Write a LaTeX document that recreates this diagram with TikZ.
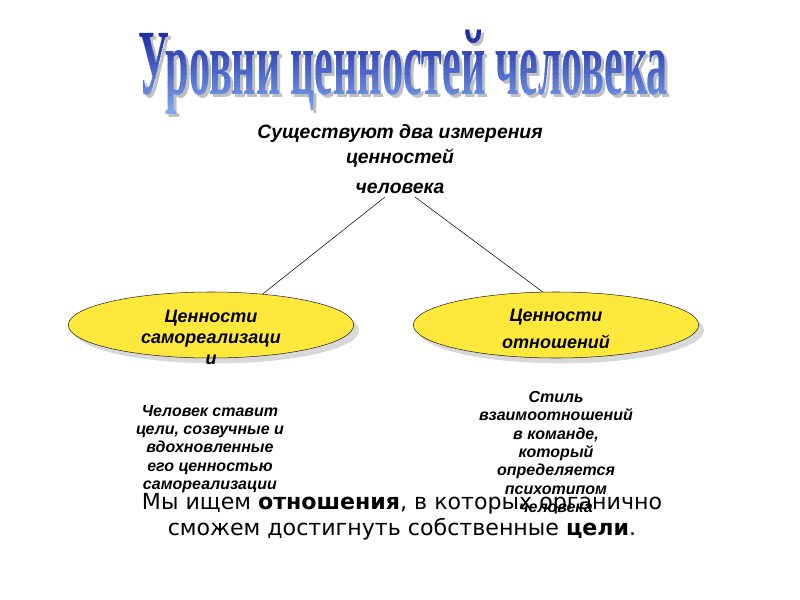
\documentclass[tikz,border=0pt]{standalone}
\usepackage{fontspec}
\setmainfont{Liberation Sans}
\newfontfamily\titlefont{Liberation Serif}
\newfontfamily\notefont{DejaVu Sans}
\usetikzlibrary{shapes.geometric,shadows,positioning}

\definecolor{valyellow}{HTML}{FFE83C}
\definecolor{titletop}{HTML}{10189A}
\definecolor{titlebot}{HTML}{8CBCFA}

\newcommand{\titletext}{\fontsize{70pt}{70pt}\titlefont\bfseries\resizebox{397pt}{\height}{Уровни ценностей человека}}

\tikzset{
  valell/.style={ellipse, draw=black!85, fill=valyellow, minimum width=214pt, minimum height=49.5pt,
    drop shadow={shadow xshift=4pt, shadow yshift=-4pt, fill=black!30}},
  valtxt/.style={font=\bfseries\itshape\fontsize{13.5pt}{15.75pt}\selectfont, align=center},
  notetxt/.style={font=\bfseries\itshape\fontsize{12pt}{13.7pt}\selectfont, align=center}
}

\begin{document}
\begin{tikzpicture}[x=0.75pt,y=-0.75pt]
    \useasboundingbox[fill=white] (0,0) rectangle (800,600);

    % Title, shaded in stripes
    \node[text=black!25, inner sep=0pt] (titleshadow) at (406,75) {\titletext};
    \foreach \i in {0,...,23} {
        \pgfmathsetmacro\ya{20+4.5*\i}
        \pgfmathsetmacro\yb{\ya+4.6}
        \pgfmathtruncatemacro\pct{100-\i*100/23}
        \begin{scope}
            \clip (120,\ya) rectangle (690,\yb);
            \node[text=titletop!\pct!titlebot, inner sep=0pt] (title\i) at (403,72) {\titletext};
        \end{scope}
    }

    % Vertices
    \node[font=\bfseries\itshape\fontsize{14.5pt}{18.75pt}\selectfont, align=center](dims) at (400,159)
        {Существуют два измерения\\ценностей\\[4pt]человека};
    \node[valell](selfval) at (211,325){};
    \node[valell](relval) at (556,325){};
    \node[valtxt](selftxt) at (211,337){Ценности\\самореализаци\\и};
    \node[valtxt](reltxt) at (556,329){Ценности\\[4pt]отношений};
    \node[notetxt](selfnote) at (210,449){Человек  ставит\\цели, созвучные и\\вдохновленные\\его ценностью\\самореализации};
    \node[notetxt](relnote) at (556,452){Стиль\\взаимоотношений\\в  команде,\\который\\определяется\\психотипом\\человека};
    \node[font=\notefont\fontsize{16.6pt}{19.5pt}\selectfont, align=center](summary) at (402,517)
        {Мы ищем \textbf{отношения}, в которых органично\\сможем достигнуть собственные \textbf{цели}.};

    % Edges
    \coordinate (dimsl) at (385,197);
    \coordinate (dimsr) at (415,197);
    \draw (dimsl) -- (selfval.31);
    \draw (dimsr) -- (relval.112);

\end{tikzpicture}
\end{document}
